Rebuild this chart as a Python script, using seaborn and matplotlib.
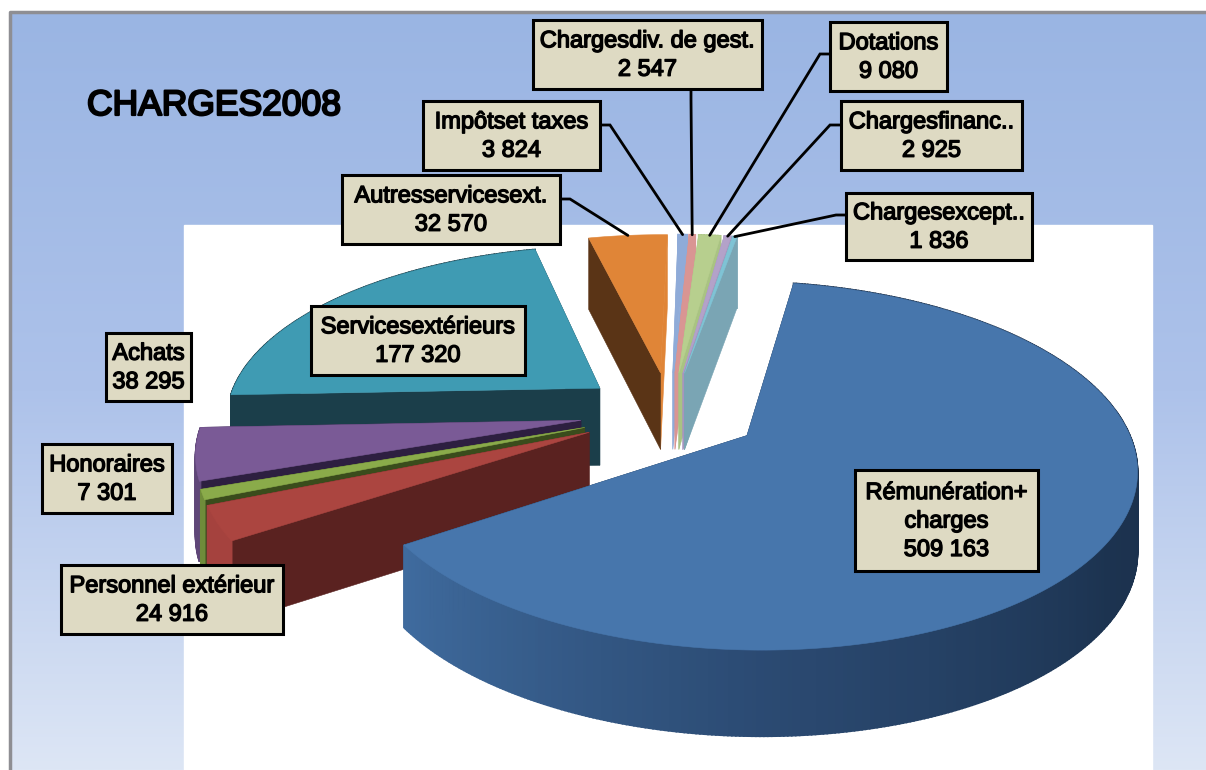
import numpy as np
import seaborn as sns
import matplotlib.pyplot as plt
import matplotlib.patheffects as pe
from matplotlib.patches import Rectangle

# Slices, clockwise, starting from the big one
names = ["Rémunération +\ncharges", "Personnel extérieur", "Honoraires", "Achats",
         "Services extérieurs", "Autres services ext.", "Impôts et taxes",
         "Charges div. de gest.", "Dotations", "Charges financ..", "Charges except.."]
values = [509163, 24916, 7301, 38295, 177320, 32570, 3824, 2547, 9080, 2925, 1836]

top_colors = ["#4776ac", "#ab4540", "#8aab4a", "#7a5a96", "#3f9bb3", "#e08537",
              "#8fabd8", "#d99593", "#b7cf8e", "#b3a2c9", "#7fc3d5"]
side_colors = ["#1a2e48", "#5a2220", "#3a4c1c", "#2d1f40", "#1b3e4a", "#5a3416",
               "#8fabd8", "#d99593", "#a9c382", "#a695bf", "#7aa5b4"]
# The orange slice shows no outer rim, only its cut faces
rim_colors = ["#3f6b9e", "#a5423e", "#6f8c3a", "#5f4678", "#1b3e4a", None,
              "#8fabd8", "#d99593", "#a9c382", "#a695bf", "#7aa5b4"]
end_colors = ["#1a2e48", "#5a2220", "#3a4c1c", "#2d1f40", "#1b3e4a", "#e08537",
              "#8fabd8", "#d99593", "#a9c382", "#a695bf", "#7aa5b4"]

# Label boxes: left, right, top, bottom in pixels
label_boxes = [(855, 1038, 470, 571), (61, 283, 565, 634), (42, 172, 444, 513), (106, 191, 333, 401),
               (311, 525, 306, 375), (342, 560, 175, 244), (423, 600, 101, 170), (533, 762, 20, 89),
               (830, 947, 22, 91), (841, 1022, 101, 170), (846, 1032, 193, 260)]
# Leader line start and elbow (only the top labels have one)
leaders = {5: [(560, 199), (570, 199)], 6: [(600, 125), (610, 125)], 7: [(691, 89), (691, 100)],
           8: [(830, 54), (820, 54)], 9: [(841, 125), (830, 125)], 10: [(846, 215), (836, 215)]}

# Perspective of the pie, in pixels
cx, cy, radius, squash, persp = 670, 412.5, 375, 172, 0.16
depth = 78
explode = 0.24
start_angle = 10


def project(px, py, z=0):
    w = 1 + persp * py
    return cx + radius * px / w, cy - squash * py / w + z * depth / np.sqrt(w)


def slice_point(i, ang, r=1.0, z=0):
    mid = np.radians((edges[i] + edges[i + 1]) / 2)
    a = np.radians(ang)
    return project(r * np.sin(a) + explode * np.sin(mid), r * np.cos(a) + explode * np.cos(mid), z)


def draw_faces(i):
    a0, a1 = edges[i], edges[i + 1]
    for ang, col in [(a1, end_colors[i]), (a0, side_colors[i])]:
        pts = [slice_point(i, ang), slice_point(i, ang, 0), slice_point(i, ang, 0, 1), slice_point(i, ang, 1, 1)]
        ax.fill(*zip(*pts), color=col, lw=0.4)
    if rim_colors[i] is None:
        return
    n = max(2, int((a1 - a0) * 2))
    angs = np.linspace(a0, a1, n + 1)
    if i == 0:
        band = sns.blend_palette(["#1a2e48", "#1a2e48", "#1c3350", "#2b4a72", "#3f6b9e"], n)
    else:
        band = [rim_colors[i]] * n
    for k in range(n):
        pts = [slice_point(i, angs[k]), slice_point(i, angs[k + 1]),
               slice_point(i, angs[k + 1], 1, 1), slice_point(i, angs[k], 1, 1)]
        ax.fill(*zip(*pts), color=band[k], lw=1.2)


def draw_top(i):
    angs = np.linspace(edges[i], edges[i + 1], 200)
    pts = [slice_point(i, edges[i], 0)] + [slice_point(i, a) for a in angs]
    ax.fill(*zip(*pts), color=top_colors[i], lw=0.4)


sns.set_theme(style="white")
plt.rcParams["font.family"] = ["Liberation Sans", "DejaVu Sans"]

edges = start_angle + np.concatenate([[0], np.cumsum(values)]) / np.sum(values) * 360

fig = plt.figure(figsize=(12.06, 7.7), dpi=100)
ax = fig.add_axes([0, 0, 1, 1])

# Background
grad = np.array(sns.blend_palette(["#9ab5e3", "#adc2ea", "#dde6f5"], 256))[:, None, :]
ax.imshow(grad, extent=[10, 1206, 770, 12], aspect="auto", zorder=0)
ax.add_patch(Rectangle((184, 225), 968, 545, color="white", zorder=0.5))
ax.plot([9.5, 9.5, 1206], [770, 11.5, 11.5], color="#8e8e93", lw=2.5, zorder=0.6)

# Small far slices first, then go round towards the viewer
for i in [6, 7, 8, 9, 10]:
    draw_faces(i)
for i in [10, 9, 8, 7, 6]:
    draw_top(i)
for i in [5, 4, 3, 2, 1, 0]:
    draw_faces(i)
    draw_top(i)

for i, pts in leaders.items():
    end = slice_point(i, (edges[i] + edges[i + 1]) / 2)
    xs, ys = zip(*(pts + [end]))
    ax.plot(xs, ys, color="black", lw=2, zorder=3, solid_joinstyle="miter")

for i, (left, right, top, bottom) in enumerate(label_boxes):
    ax.add_patch(Rectangle((left, top), right - left, bottom - top, facecolor="#dedac3",
                           edgecolor="black", lw=2.2, zorder=5))
    txt = names[i].replace(" +", "+") + "\n" + f"{values[i]:,}".replace(",", " ")
    txt = txt.replace("Charges ", "Charges").replace("Autres services ext", "Autresservicesext")
    txt = txt.replace("Services ext", "Servicesext").replace("Impôts et", "Impôtset")
    t = ax.text((left + right) / 2, (top + bottom) / 2 + 1, txt, ha="center", va="center", fontsize=17,
                color="black", linespacing=1.38, zorder=6)
    t.set_path_effects([pe.withStroke(linewidth=1.0, foreground="black")])

title = ax.text(87, 115, "CHARGES2008", fontsize=25.5, color="black", va="baseline", ha="left")
title.set_path_effects([pe.withStroke(linewidth=1.6, foreground="black")])

ax.set_xlim(0, 1206)
ax.set_ylim(770, 0)
ax.axis("off")

fig.savefig("out.png", dpi=100)
